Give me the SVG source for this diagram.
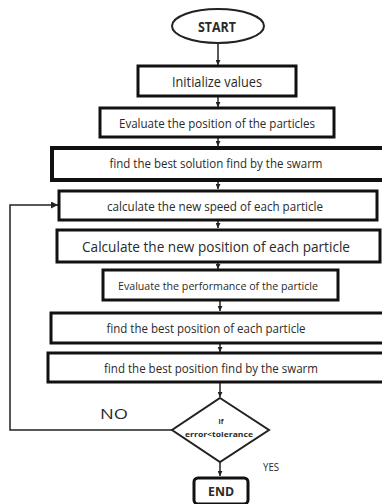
<svg xmlns="http://www.w3.org/2000/svg" width="382" height="504" viewBox="0 0 382 504">
<defs>
<marker id="ah" viewBox="0 0 10 10" refX="10" refY="5" markerWidth="5" markerHeight="5" markerUnits="userSpaceOnUse" orient="auto">
<path d="M0,0 L10,5 L0,10 z" fill="#222"/>
</marker>
<marker id="ah2" viewBox="0 0 10 10" refX="10" refY="5" markerWidth="7" markerHeight="7" markerUnits="userSpaceOnUse" orient="auto">
<path d="M0,0 L10,5 L0,10 z" fill="#222"/>
</marker>
</defs>
<style>
.box{fill:#fff;stroke:#111;stroke-width:3}
.t{font-family:"Open Sans",Lato,"Liberation Sans",sans-serif;fill:#2a2a2a;text-anchor:middle;dominant-baseline:central}
.c{fill:none;stroke:#222;stroke-width:1.5}
</style>
<rect width="382" height="504" fill="#fff"/>
<g id="connectors">
<line class="c" x1="218" y1="43" x2="218" y2="65" marker-end="url(#ah)"/>
<line class="c" x1="218" y1="97" x2="218" y2="107" marker-end="url(#ah)"/>
<line class="c" x1="218" y1="138" x2="218" y2="146" marker-end="url(#ah)"/>
<line class="c" x1="218" y1="181" x2="218" y2="189" marker-end="url(#ah)"/>
<line class="c" x1="218" y1="221" x2="218" y2="228" marker-end="url(#ah)"/>
<line class="c" x1="218" y1="263" x2="218" y2="269" marker-end="url(#ah)"/>
<line class="c" x1="220" y1="301" x2="220" y2="311" marker-end="url(#ah)"/>
<line class="c" x1="220" y1="344" x2="220" y2="352" marker-end="url(#ah)"/>
<line class="c" x1="220" y1="383" x2="220" y2="397" marker-end="url(#ah)"/>
<line class="c" x1="220" y1="462" x2="220" y2="476" marker-end="url(#ah)"/>
<polyline class="c" points="172,430 10,430 10,205 58,205" marker-end="url(#ah2)"/>
</g>
<g id="start">
<ellipse cx="218" cy="26" rx="46" ry="17" fill="#fff" stroke="#222" stroke-width="2"/>
<text class="t" x="217" y="26" font-size="14" font-weight="bold" textLength="38" lengthAdjust="spacingAndGlyphs">START</text>
</g>
<g id="init">
<rect class="box" x="138" y="66" width="158" height="30"/>
<text class="t" x="217" y="81" font-size="15" textLength="90" lengthAdjust="spacingAndGlyphs">Initialize values</text>
</g>
<g id="evalpos">
<rect class="box" x="100" y="108" width="234" height="29"/>
<text class="t" x="217" y="123" font-size="12" textLength="196" lengthAdjust="spacingAndGlyphs">Evaluate the position of the particles</text>
</g>
<g id="bestsol">
<rect x="52" y="148" width="340" height="32" fill="#fff" stroke="#111" stroke-width="4"/>
<text class="t" x="216" y="163" font-size="12" textLength="213" lengthAdjust="spacingAndGlyphs">find the best solution find by the swarm</text>
</g>
<g id="speed">
<rect class="box" x="59" y="191" width="318" height="29"/>
<text class="t" x="215" y="206" font-size="12" textLength="216" lengthAdjust="spacingAndGlyphs">calculate the new speed of each particle</text>
</g>
<g id="newpos">
<rect class="box" x="57" y="230" width="323" height="32"/>
<text class="t" x="216" y="246" font-size="14" textLength="268" lengthAdjust="spacingAndGlyphs">Calculate the new position of each particle</text>
</g>
<g id="evalperf">
<rect class="box" x="103" y="270" width="235" height="30"/>
<text class="t" x="218" y="285" font-size="11" textLength="200" lengthAdjust="spacingAndGlyphs">Evaluate the performance of the particle</text>
</g>
<g id="bestpos">
<rect class="box" x="51" y="313" width="340" height="30"/>
<text class="t" x="206" y="328" font-size="12" textLength="199" lengthAdjust="spacingAndGlyphs">find the best position of each particle</text>
</g>
<g id="bestswarm">
<rect class="box" x="48" y="353" width="340" height="29"/>
<text class="t" x="211" y="368" font-size="12" textLength="214" lengthAdjust="spacingAndGlyphs">find the best position find by the swarm</text>
</g>
<g id="decision">
<polygon points="220,398 269,430 220,462 172,430" fill="#fff" stroke="#222" stroke-width="2"/>
<text class="t" x="221" y="421" font-size="7" font-weight="bold">if</text>
<text class="t" x="219" y="434" font-size="7.5" font-weight="bold" textLength="68" lengthAdjust="spacingAndGlyphs">error&lt;tolerance</text>
<text class="t" x="114" y="413" font-size="15" textLength="28" lengthAdjust="spacingAndGlyphs">NO</text>
<text class="t" x="271" y="467" font-size="10" textLength="16" lengthAdjust="spacingAndGlyphs">YES</text>
</g>
<g id="end">
<rect x="194" y="478" width="54" height="26" rx="4" fill="#fff" stroke="#111" stroke-width="3"/>
<text class="t" x="221" y="491" font-size="13" font-weight="bold" textLength="26" lengthAdjust="spacingAndGlyphs">END</text>
</g>
</svg>
